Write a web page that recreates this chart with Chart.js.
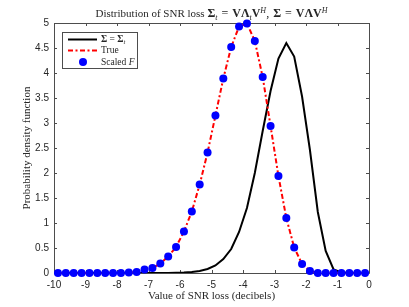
<!DOCTYPE html>
<html>
<head>
<meta charset="utf-8">
<script src="https://cdn.jsdelivr.net/npm/chart.js@4"></script>
<style>
  html, body { margin: 0; padding: 0; background: #fff; }
  canvas { display: block; }
</style>
</head>
<body>
<canvas id="chart" width="409" height="307"></canvas>
<script>
// bin centres of the SNR loss histogram (dB)
const lossDb = [
  -9.875, -9.625, -9.375, -9.125, -8.875, -8.625, -8.375, -8.125,
  -7.875, -7.625, -7.375, -7.125, -6.875, -6.625, -6.375, -6.125,
  -5.875, -5.625, -5.375, -5.125, -4.875, -4.625, -4.375, -4.125,
  -3.875, -3.625, -3.375, -3.125, -2.875, -2.625, -2.375, -2.125,
  -1.875, -1.625, -1.375, -1.125, -0.875, -0.625, -0.375, -0.125
];

// Sigma = Sigma_t (black)
const sigmaEqual = [
  0, 0, 0, 0, 0, 0, 0, 0,
  0, 0, 0, 0, 0, 0, 0, 0.005,
  0.01, 0.02, 0.04, 0.08, 0.15, 0.28, 0.48, 0.82,
  1.3, 2.0, 2.84, 3.64, 4.29, 4.6, 4.33, 3.53,
  2.46, 1.22, 0.44, 0.07, 0.01, 0, 0, 0
];

// True (red dash-dot)
const trueLoss = [
  0, 0, 0, 0, 0, 0, 0, 0,
  0, 0.01, 0.02, 0.07, 0.1, 0.19, 0.33, 0.52,
  0.83, 1.23, 1.77, 2.41, 3.15, 3.89, 4.52, 4.93,
  4.99, 4.64, 3.92, 2.94, 1.94, 1.1, 0.51, 0.18,
  0.04, 0, 0, 0, 0, 0, 0, 0
];

// Scaled F (blue markers)
const scaledF = [
  0, 0, 0, 0, 0, 0, 0, 0,
  0, 0.01, 0.02, 0.07, 0.1, 0.19, 0.33, 0.52,
  0.83, 1.23, 1.77, 2.41, 3.15, 3.89, 4.52, 4.93,
  4.99, 4.64, 3.92, 2.94, 1.94, 1.1, 0.51, 0.18,
  0.04, 0, 0, 0, 0, 0, 0, 0
];

const SERIF = '"Liberation Serif", "DejaVu Serif", serif';
const SANS = '"Liberation Sans", Arial, sans-serif';
const TEXT = '#262626';
const AXIS = '#4d4d4d';

const pts = vals => vals.map((v, i) => ({ x: lossDb[i], y: v }));

function drawRich(ctx, parts, x, y, center) {
  const widths = parts.map(p => { ctx.font = p.font; return ctx.measureText(p.text).width + (p.pad || 0); });
  const total = widths.reduce((s, w) => s + w, 0);
  let cx = center ? x - total / 2 : x;
  parts.forEach((p, i) => {
    ctx.font = p.font;
    ctx.fillText(p.text, cx, y + (p.dy || 0));
    cx += widths[i];
  });
}

// matlab style box with inward ticks, title and legend
const matlabFrame = {
  id: 'matlabFrame',
  beforeDatasetsDraw(chart) {
    const { ctx, chartArea: a, scales: { x, y } } = chart;
    ctx.save();
    ctx.strokeStyle = AXIS;
    ctx.lineWidth = 1;
    ctx.beginPath();
    ctx.rect(a.left + 0.5, a.top + 0.5, a.right - a.left, a.bottom - a.top);
    x.ticks.forEach(t => {
      const px = Math.round(x.getPixelForValue(t.value)) + 0.5;
      ctx.moveTo(px, a.bottom); ctx.lineTo(px, a.bottom - 3);
      ctx.moveTo(px, a.top); ctx.lineTo(px, a.top + 3);
    });
    y.ticks.forEach(t => {
      const py = Math.round(y.getPixelForValue(t.value)) + 0.5;
      ctx.moveTo(a.left, py); ctx.lineTo(a.left + 3, py);
      ctx.moveTo(a.right, py); ctx.lineTo(a.right - 3, py);
    });
    ctx.stroke();
    ctx.restore();
  },
  afterDraw(chart) {
    const { ctx, chartArea: a } = chart;
    ctx.save();
    ctx.fillStyle = TEXT;
    ctx.textBaseline = 'alphabetic';
    const reg = `11px ${SERIF}`, eq = `12px ${SERIF}`, bold = `bold 12px ${SERIF}`, sm = `italic 8px ${SERIF}`;
    drawRich(ctx, [
      { text: 'Distribution of SNR loss ', font: reg },
      { text: '\u03A3', font: bold },
      { text: 't', font: sm, dy: 2.5, pad: 1 },
      { text: ' = ', font: eq, pad: 1 },
      { text: 'V\u039B', font: bold },
      { text: 't', font: sm, dy: 2.5 },
      { text: 'V', font: bold },
      { text: 'H', font: sm, dy: -4.5 },
      { text: ', ', font: eq, pad: 1 },
      { text: '\u03A3', font: bold, pad: 1 },
      { text: ' = ', font: eq, pad: 1 },
      { text: 'V\u039BV', font: bold },
      { text: 'H', font: sm, dy: -4.5 }
    ], (a.left + a.right) / 2, 17, true);

    // legend
    const lx = a.left + 8.5, ly = a.top + 9.5;
    ctx.fillStyle = '#fff';
    ctx.fillRect(lx, ly, 75, 36);
    ctx.strokeStyle = AXIS;
    ctx.lineWidth = 1;
    ctx.strokeRect(lx, ly, 75, 36);

    const rows = [a.top + 16.5, a.top + 27.5, a.top + 39];
    const x0 = a.left + 14, x1 = a.left + 43;
    ctx.lineWidth = 2;
    ctx.strokeStyle = '#000';
    ctx.beginPath(); ctx.moveTo(x0, rows[0]); ctx.lineTo(x1, rows[0]); ctx.stroke();
    ctx.strokeStyle = '#ff0000';
    ctx.setLineDash([5, 2.5, 2, 2.5]);
    ctx.beginPath(); ctx.moveTo(x0, rows[1]); ctx.lineTo(x1, rows[1]); ctx.stroke();
    ctx.setLineDash([]);
    ctx.fillStyle = '#0000ff';
    ctx.beginPath(); ctx.arc(a.left + 29, rows[2], 4, 0, Math.PI * 2); ctx.fill();

    ctx.fillStyle = TEXT;
    ctx.textBaseline = 'middle';
    const lf = `9.5px ${SERIF}`, lb = `bold 9.5px ${SERIF}`, li = `italic 9.5px ${SERIF}`;
    const tx = a.left + 47;
    drawRich(ctx, [
      { text: '\u03A3', font: lb },
      { text: ' = ', font: lf },
      { text: '\u03A3', font: lb },
      { text: 't', font: `italic 6.5px ${SERIF}`, dy: 2.5 }
    ], tx, rows[0]);
    drawRich(ctx, [{ text: 'True', font: lf }], tx, rows[1]);
    drawRich(ctx, [{ text: 'Scaled ', font: lf }, { text: 'F', font: li }], tx, rows[2]);
    ctx.restore();
  }
};

new Chart(document.getElementById('chart'), {
  type: 'line',
  data: {
    datasets: [
      {
        label: 'Scaled F',
        data: pts(scaledF),
        showLine: false,
        pointRadius: 4,
        pointBackgroundColor: '#0000ff',
        pointBorderWidth: 0,
        clip: false,
      },
      {
        label: 'True',
        data: pts(trueLoss),
        borderColor: '#ff0000',
        borderWidth: 2,
        borderDash: [5, 2.5, 2, 2.5],
        pointRadius: 0,
        tension: 0,
        clip: false,
      },
      {
        label: '\u03A3 = \u03A3t',
        data: pts(sigmaEqual),
        borderColor: '#000000',
        borderWidth: 2,
        pointRadius: 0,
        tension: 0,
      },
    ],
  },
  options: {
    responsive: false,
    animation: false,
    layout: { padding: { top: 23, right: 40, left: 0, bottom: 0 } },
    scales: {
      x: {
        type: 'linear',
        min: -10,
        max: 0,
        grid: { display: false, drawTicks: false },
        border: { display: false },
        ticks: { stepSize: 1, color: TEXT, padding: 6, maxRotation: 0, font: { family: SANS, size: 10 } },
        title: {
          display: true,
          text: 'Value of SNR loss (decibels)',
          color: TEXT,
          font: { family: SERIF, size: 11 },
          padding: { top: 0, bottom: 4 },
        },
        afterFit: s => { s.height = 34; },
      },
      y: {
        min: 0,
        max: 5,
        grid: { display: false, drawTicks: false },
        border: { display: false },
        ticks: {
          stepSize: 0.5,
          color: TEXT,
          padding: 5,
          font: { family: SANS, size: 10 },
          callback: v => String(v),
        },
        title: {
          display: true,
          text: 'Probability density function',
          color: TEXT,
          font: { family: SERIF, size: 11 },
          padding: { top: 21, bottom: 0 },
        },
        afterFit: s => { s.width = 54; },
      },
    },
    plugins: {
      legend: { display: false },
      tooltip: { enabled: false },
    },
  },
  plugins: [matlabFrame],
});
</script>
</body>
</html>
